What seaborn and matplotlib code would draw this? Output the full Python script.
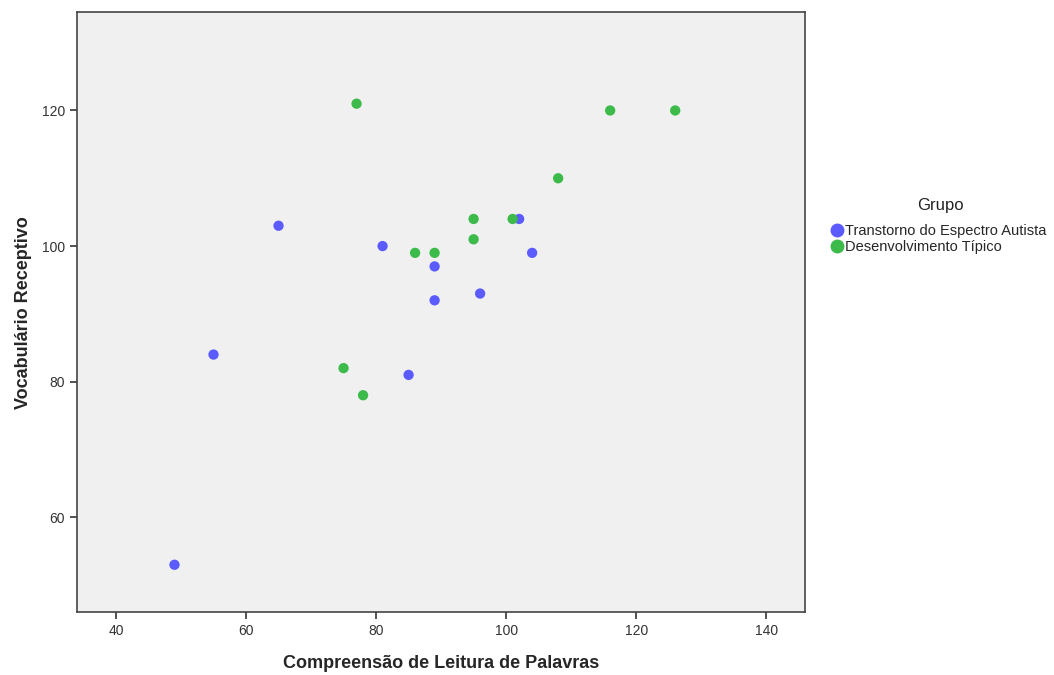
import pandas as pd
import seaborn as sns
import matplotlib.pyplot as plt

# Grupo TEA (Transtorno do Espectro Autista)
tea_x = [49, 55, 65, 81, 89, 89, 96, 85, 102, 104]
tea_y = [53, 84, 103, 100, 97, 92, 93, 81, 104, 99]
# Grupo DT (Desenvolvimento Típico)
dt_x = [77, 116, 126, 108, 95, 101, 95, 86, 89, 75, 78]
dt_y = [121, 120, 120, 110, 104, 104, 101, 99, 99, 82, 78]

groups = ['Transtorno do Espectro Autista', 'Desenvolvimento Típico']
colors = ['#5b5bff', '#3cba4a']

data = pd.DataFrame({
    'leitura': tea_x + dt_x,
    'vocab': tea_y + dt_y,
    'Grupo': [groups[0]] * len(tea_x) + [groups[1]] * len(dt_x),
})

sns.set_style('ticks')
plt.rcParams['font.family'] = ['Liberation Sans', 'DejaVu Sans']

fig = plt.figure(figsize=(10.54, 6.75), dpi=100)
ax = fig.add_axes([0.073, 0.093, 0.691, 0.889])
ax.set_facecolor('#f0f0f0')

sns.scatterplot(data=data, x='leitura', y='vocab', hue='Grupo', hue_order=groups,
                palette=colors, s=55, edgecolor='none', ax=ax, legend=False)

ax.set_xlim(34, 146)
ax.set_ylim(46, 134.5)
ax.set_xticks([40, 60, 80, 100, 120, 140])
ax.set_yticks([60, 80, 100, 120])
ax.tick_params(labelsize=10, colors='#333333', length=5, width=1.2)
for sp in ax.spines.values():
    sp.set_color('#444444')
    sp.set_linewidth(1.2)

ax.set_xlabel('Compreensão de Leitura de Palavras', size=13, fontweight='bold', labelpad=12)
ax.set_ylabel('Vocabulário Receptivo', size=13, fontweight='bold', labelpad=7)

# legend title placed separately
fig.text(0.892, 0.696, 'Grupo', ha='center', va='center', fontsize=12, color='#222222')
handles = [plt.Line2D([], [], marker='o', linestyle='', color=c, markersize=9) for c in colors]
fig.legend(handles, groups, loc='center left', bbox_to_anchor=(0.782, 0.646),
           frameon=False, fontsize=10.5, handletextpad=0.0,
           handlelength=1.0, labelspacing=0.1, borderaxespad=0)

fig.savefig('out.png', dpi=100)
